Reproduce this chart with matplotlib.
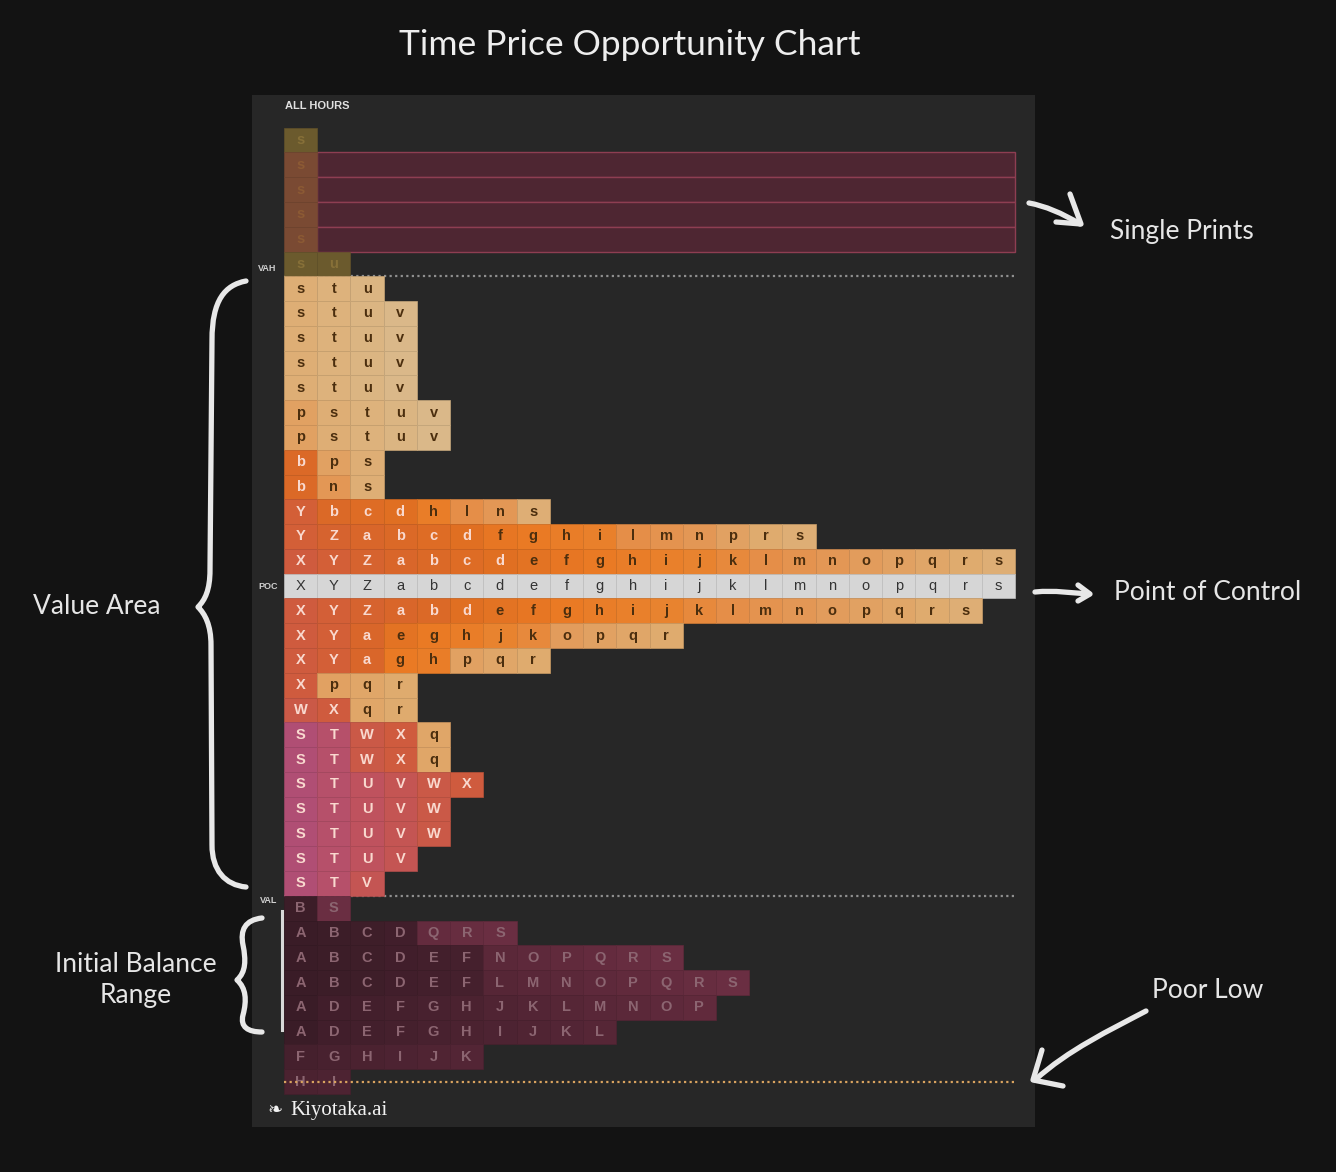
import matplotlib.pyplot as plt
import numpy as np
from matplotlib.patches import Rectangle, PathPatch
from matplotlib.path import Path
from matplotlib.colors import to_rgb

plt.rcParams['font.family'] = ['Lato', 'DejaVu Sans']

# TPO letters per price row, top (high) to bottom (low)
tpo_rows = [
    "s", "s", "s", "s", "s", "su",
    "stu", "stuv", "stuv", "stuv", "stuv", "pstuv", "pstuv", "bps", "bns",
    "Ybcdhlns", "YZabcdfghilmnprs", "XYZabcdefghijklmnopqrs",
    "XYZabcdefghijklmnopqrs",
    "XYZabdefghijklmnopqrs", "XYaeghjkopqr", "XYaghpqr", "Xpqr", "WXqr",
    "STWXq", "STWXq", "STUVWX", "STUVW", "STUVW", "STUV", "STV",
    "BS", "ABCDQRS", "ABCDEFNOPQRS", "ABCDEFLMNOPQRS", "ADEFGHJKLMNOP",
    "ADEFGHIJKL", "FGHIJK", "HI",
]
poc_row = 18
vah_row = 6            # first row inside value area
val_row = 30           # last row inside value area
single_print_rows = [1, 2, 3, 4]
poor_low_row = 38
ib_rows = (31.1, 35.9)
n_cols = 22

period_order = "ABCDEFGHIJKLMNOPQRSTUVWXYZabcdefghijklmnopqrstuv"

# colour anchors by period (value area and dimmed area)
bright_anchors = {
    'S': '#b04e74', 'T': '#b6506a', 'U': '#bf525e', 'V': '#c45553',
    'W': '#ca5947', 'X': '#cf5b3e', 'Y': '#d35f37', 'Z': '#d6632f',
    'a': '#d9662a', 'd': '#e06f22', 'g': '#ea7a24', 'j': '#e8832f',
    'l': '#e58e48', 'o': '#e29c5c', 'r': '#dfab6e', 'v': '#dab889',
}
dim_anchors = {'A': '#3a1c27', 'F': '#45202d', 'K': '#532535',
               'P': '#612a3c', 'S': '#6a2e42'}


def interp_color(ch, anchors):
    keys = sorted(anchors, key=period_order.index)
    idx = [period_order.index(k) for k in keys]
    cols = np.array([to_rgb(anchors[k]) for k in keys])
    i = period_order.index(ch)
    return tuple(np.interp(i, idx, cols[:, j]) for j in range(3))


def darker(c, f=0.9):
    return tuple(v * f for v in c)


fig = plt.figure(figsize=(13.36, 11.72), dpi=100, facecolor='#131313')

# ---- TPO panel ----
px_x0, px_x1, px_y0, px_y1 = 252, 1035, 95, 1127
cw, rh = 33.23, 24.78
ax = fig.add_axes([px_x0 / 1336, 1 - px_y1 / 1172,
                   (px_x1 - px_x0) / 1336, (px_y1 - px_y0) / 1172])
ax.set_facecolor('#272727')
ax.set_xlim(-(284 - px_x0) / cw, (px_x1 - 284) / cw)
ax.set_ylim((px_y1 - 140) / rh, (px_y0 - 140) / rh)
ax.set_xticks([])
ax.set_yticks([])
for s in ax.spines.values():
    s.set_visible(False)

# single prints band
for r in single_print_rows:
    ax.add_patch(Rectangle((1, r - 0.5), n_cols - 1, 1, facecolor='#4e2632',
                           edgecolor='#8e3e52', lw=1.0, zorder=1))

for r, letters in enumerate(tpo_rows):
    for c, ch in enumerate(letters):
        if r == poc_row:
            fc, tc = to_rgb('#d6d6d6'), '#333333'
        elif vah_row <= r <= val_row:
            fc = interp_color(ch, bright_anchors)
            tc = '#f9d9cf' if period_order.index(ch) <= period_order.index('d') else '#4b2e0e'
        elif r in single_print_rows:
            fc, tc = to_rgb('#7a4a33'), '#8c5a34'
        elif r < vah_row:
            fc, tc = to_rgb('#6b5a2d'), '#877038'
        else:
            fc, tc = interp_color(ch, dim_anchors), '#8c6571'
        ax.add_patch(Rectangle((c, r - 0.5), 1, 1, facecolor=fc,
                               edgecolor=darker(fc), lw=0.5, zorder=2))
        ax.text(c + 0.5, r, ch, ha='center', va='center', fontsize=10.5,
                color=tc, family=['Liberation Sans', 'DejaVu Sans'],
                fontweight='bold' if r != poc_row else 'normal', zorder=3)

# value area / poor low lines
ax.plot([0, n_cols], [vah_row - 0.5] * 2, color='#8f8f8f', lw=1.6,
        ls=(0, (1, 1.5)), zorder=0.5)
ax.plot([0, n_cols], [val_row + 0.5] * 2, color='#8f8f8f', lw=1.6,
        ls=(0, (1, 1.5)), zorder=0.5)
ax.plot([0, n_cols], [poor_low_row] * 2, color='#d9a35f', lw=1.6,
        ls=(0, (1, 1.5)), zorder=4)
ax.plot([-0.05, -0.05], ib_rows, color='#d8d8d8', lw=2.2, zorder=4)

lab = dict(color='#d0d0d0', fontsize=6.5, fontweight='bold',
           family=['Liberation Sans', 'DejaVu Sans'], va='center', ha='left')
ax.text(0.03, -1.37, 'ALL HOURS', color='#e0e0e0', fontsize=8,
        fontweight='bold', family=['Liberation Sans', 'DejaVu Sans'],
        va='center', ha='left')
ax.text(-0.78, 5.2, 'VAH', **lab)
ax.text(-0.78, poc_row, 'POC', **lab)
ax.text(-0.72, 30.7, 'VAL', **lab)
ax.text(-0.5, 39.15, '\u2767', color='#f2f2f2', fontsize=13,
        family=['DejaVu Sans'], va='center', ha='left')
ax.text(0.2, 39.15, 'Kiyotaka.ai', color='#f2f2f2', fontsize=15,
        family=['Liberation Serif', 'DejaVu Serif'], va='center', ha='left')

# ---- annotation overlay (pixel coords) ----
ov = fig.add_axes([0, 0, 1, 1], facecolor='none')
ov.set_xlim(0, 1336)
ov.set_ylim(1172, 0)
ov.axis('off')

ov.text(630, 45, 'Time Price Opportunity Chart', ha='center', va='center',
        fontsize=25.5, color='#eeeeee')
txt = dict(fontsize=19, color='#e6e6e6', ha='center', va='center')
ov.text(97, 607, 'Value Area', **txt)
ov.text(136, 980, 'Initial Balance\nRange', linespacing=1.3, **txt)
ov.text(1182, 232, 'Single Prints', **txt)
ov.text(1208, 592, 'Point of Control', **txt)
ov.text(1208, 990, 'Poor Low', **txt)

pen = dict(facecolor='none', edgecolor='#e8e8e8', lw=3.8,
           capstyle='round', joinstyle='round')
M, L, C = Path.MOVETO, Path.LINETO, Path.CURVE4


def stroke(verts, codes):
    ov.add_patch(PathPatch(Path(verts, codes), **pen))


# value area brace
stroke([(246, 281), (225, 285), (212, 300), (212, 340), (210, 570),
        (210, 590), (205, 600), (198, 607), (205, 614), (211, 625), (211, 645),
        (212, 845), (212, 870), (225, 885), (246, 887)],
       [M, C, C, C, L, C, C, C, C, C, C, L, C, C, C])
# initial balance brace
stroke([(262, 918), (245, 920), (240, 930), (243, 945), (246, 960),
        (246, 972), (237, 980), (246, 988), (247, 1000), (243, 1015),
        (240, 1027), (248, 1032), (262, 1032)],
       [M, C, C, C, C, C, C, C, C, C, C, C, C])
# single prints arrow
stroke([(1029, 203), (1045, 206), (1062, 213), (1080, 224)], [M, C, C, C])
stroke([(1070, 194), (1081, 224), (1056, 222)], [M, L, L])
# point of control arrow
stroke([(1035, 592), (1055, 590), (1072, 593), (1089, 594)], [M, C, C, C])
stroke([(1078, 585), (1090, 594), (1078, 601)], [M, L, L])
# poor low arrow
stroke([(1146, 1011), (1110, 1030), (1068, 1050), (1035, 1080)], [M, C, C, C])
stroke([(1042, 1050), (1033, 1080), (1063, 1086)], [M, L, L])

fig.savefig('out.png', dpi=100, facecolor=fig.get_facecolor())
